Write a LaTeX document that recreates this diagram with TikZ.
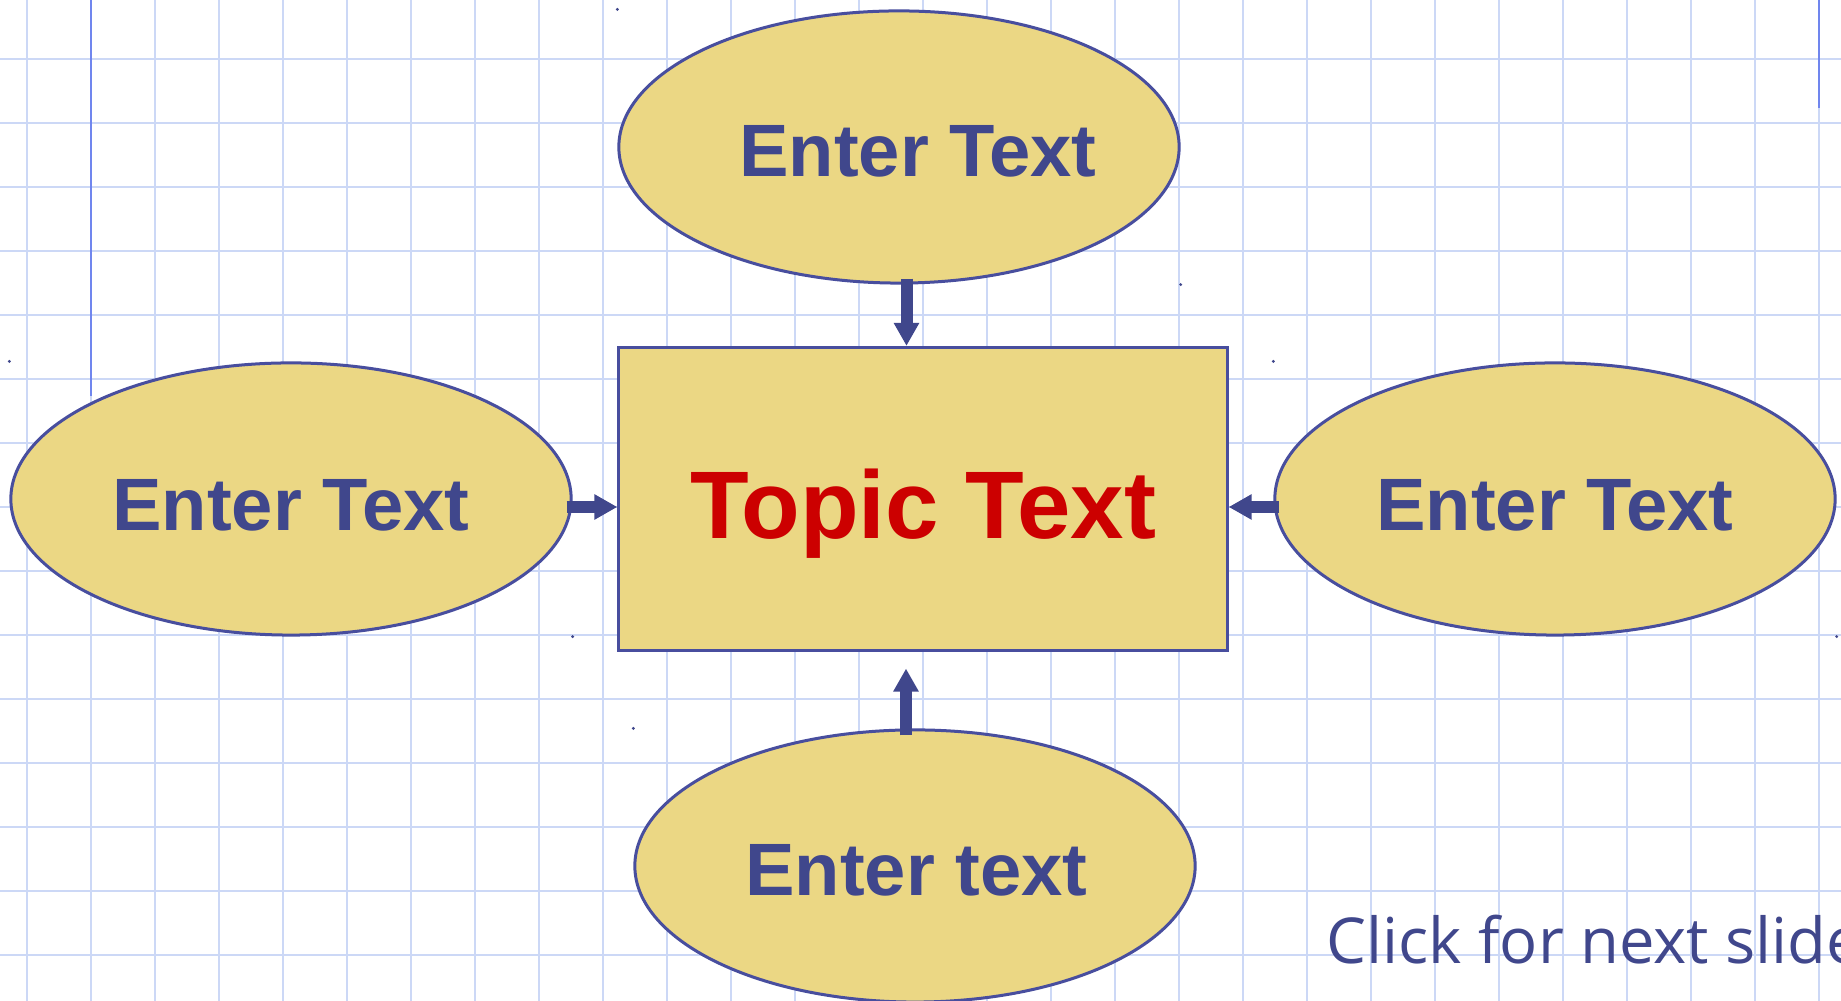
\documentclass[tikz,border=0pt]{standalone}
\usepackage{fontspec}
\setmainfont{Liberation Sans}
\newfontfamily\clickfont{Open Sans}
\usetikzlibrary{shapes.geometric,arrows.meta,calc}
\definecolor{paperline}{RGB}{204,216,246}
\definecolor{guideblue}{RGB}{112,134,238}
\definecolor{inkblue}{RGB}{64,71,140}
\definecolor{edgeblue}{RGB}{72,78,158}
\definecolor{sand}{RGB}{235,215,132}
\definecolor{topicred}{RGB}{204,0,0}
\tikzset{
  gridline/.style={paperline,line width=0.022cm},
  guideline/.style={guideblue,line width=0.02cm},
  bubble/.style={ellipse,draw=edgeblue,fill=sand,line width=0.03cm,inner sep=0pt,
    minimum width=5.6cm,minimum height=2.72cm},
  topicbox/.style={rectangle,draw=edgeblue,fill=sand,line width=0.03cm,inner sep=0pt,
    minimum width=6.08cm,minimum height=3.03cm},
  entry/.style={text=inkblue,inner sep=0pt,font=\fontsize{21.1}{25}\selectfont\bfseries},
  topic/.style={text=topicred,inner sep=0pt,font=\fontsize{27.3}{31}\selectfont\bfseries},
  push/.style={inkblue,line width=0.12cm,-{Triangle[width=0.24cm,length=0.23cm]}},
  handle/.style={inkblue}
}
\begin{document}
\begin{tikzpicture}[x=0.01cm,y=-0.01cm]
\fill[white] (0,0) rectangle (1841,1001);
\useasboundingbox (0,0) rectangle (1841,1001);
% squared paper
\foreach \gx in {27,91,...,1819}
  \draw[gridline] (\gx,0) -- (\gx,1001);
\foreach \gy in {59,123,...,955}
  \draw[gridline] (0,\gy) -- (1841,\gy);
\draw[guideline] (91,0) -- (91,396);
\draw[guideline] (1819,0) -- (1819,108);
% topic and the four entries
\node[topicbox,label={[topic,yshift=-0.15cm]center:Topic Text}] (topic) at (923,499) {};
\node[bubble,label={[entry,xshift=0.19cm,yshift=-0.04cm]center:Enter Text}] (top)    at (899,147) {};
\node[bubble,label={[entry,yshift=-0.06cm]center:Enter Text}]               (left)   at (291,499) {};
\node[bubble,label={[entry,yshift=-0.06cm]center:Enter Text}]               (right)  at (1555,499) {};
\node[bubble,label={[entry,xshift=0.015cm,yshift=-0.045cm]center:Enter text}] (bottom) at (915,866) {};
\draw[push] ($(top.south)+(7.5,-6)$) -- ($(topic.north)+(-16.5,0)$);
\draw[push] ($(left.east)+(-6,8)$) -- ($(topic.west)+(0,8)$);
\draw[push] ($(right.west)+(6,8)$) -- ($(topic.east)+(0,8)$);
\draw[push] ($(bottom.north)+(-9,7)$) -- ($(topic.south)+(-17,16.5)$);
% corner handles
\fill[handle] (top.north -| top.west) circle (1.6);
\fill[handle] (top.south -| top.east) circle (1.6);
\fill[handle] (left.north -| left.west) circle (1.6);
\fill[handle] (left.south -| left.east) circle (1.6);
\fill[handle] (right.north -| right.west) circle (1.6);
\fill[handle] (right.south -| right.east) circle (1.6);
\fill[handle] (bottom.north -| bottom.west) circle (1.6);
\node[anchor=base west,inner sep=0pt,text=inkblue,font=\clickfont\fontsize{18}{22}\selectfont] (next) at (1326,964) {Click for next slide};
\end{tikzpicture}
\end{document}
